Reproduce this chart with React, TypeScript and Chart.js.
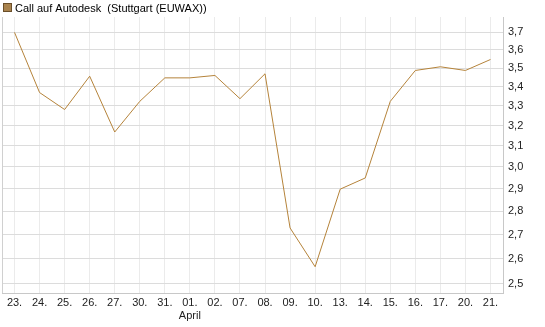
import React, { useEffect, useRef } from "react";
import { Chart, registerables } from "chart.js";

Chart.register(...registerables);

const dayLabels = ["23.", "24.", "25.", "26.", "27.", "30.", "31.", "01.", "02.", "07.", "08.", "09.", "10.", "13.", "14.", "15.", "16.", "17.", "20.", "21."];
const monthMarks: Record<string, string> = { "01.": "April" };
const prices = [3.70, 3.369, 3.281, 3.456, 3.168, 3.323, 3.447, 3.447, 3.46, 3.337, 3.469, 2.728, 2.568, 2.898, 2.949, 3.323, 3.487, 3.507, 3.487, 3.547];
const yTicks = [2.5, 2.6, 2.7, 2.8, 2.9, 3.0, 3.1, 3.2, 3.3, 3.4, 3.5, 3.6, 3.7];
const seriesName = "Call auf Autodesk  (Stuttgart (EUWAX))";
const yMin = 2.465;
const yMax = 3.79;

const LINE = "#B5833A";
const FONT = "'Liberation Sans', Arial, sans-serif";

export default function App() {
  const ref = useRef<HTMLCanvasElement | null>(null);
  useEffect(() => {
    document.body.style.margin = "0";
    const canvas = ref.current!;
    const labels = dayLabels.map((d) => (monthMarks[d] ? [d, monthMarks[d]] : d));
    const framePlugin = {
      id: "frame",
      beforeDatasetsDraw(chart: any) {
        const { ctx, chartArea } = chart;
        ctx.save();
        ctx.strokeStyle = "#d0d0d0";
        ctx.lineWidth = 1;
        ctx.beginPath();
        ctx.moveTo(chartArea.left + 0.5, chartArea.top);
        ctx.lineTo(chartArea.left + 0.5, chartArea.bottom);
        ctx.stroke();
        ctx.restore();
      },
      afterDraw(chart: any) {
        const { ctx } = chart;
        ctx.save();
        ctx.fillStyle = "#A9834E";
        ctx.strokeStyle = "#6b4f2a";
        ctx.lineWidth = 1;
        ctx.fillRect(3, 3, 9, 9);
        ctx.strokeRect(3.5, 3.5, 8, 8);
        ctx.fillStyle = "#000";
        ctx.font = `11px ${FONT}`;
        ctx.textBaseline = "alphabetic";
        ctx.textAlign = "left";
        ctx.fillText(chart.data.datasets[0].label, 15, 12);
        ctx.restore();
      },
    };
    const chart = new Chart(canvas, {
      type: "line",
      data: {
        labels,
        datasets: [
          {
            label: seriesName,
            data: prices,
            borderColor: LINE,
            backgroundColor: "#A9834E",
            borderWidth: 1,
            pointRadius: 0,
            tension: 0,
            fill: false,
          },
        ],
      },
      options: {
        responsive: false,
        animation: false,
        layout: { padding: { left: 2, top: 17, right: 0, bottom: 0 } },
        plugins: {
          tooltip: { enabled: false },
          legend: { display: false },
        },
        scales: {
          x: {
            type: "category",
            offset: true,
            grid: { offset: false, color: "#ebebeb", drawTicks: false },
            border: { color: "#c8c8c8" },
            ticks: {
              color: "#222",
              padding: 3,
              maxRotation: 0,
              autoSkip: false,
              font: { family: FONT, size: 11 },
            },
            afterFit: (s: any) => {
              s.height = 34;
            },
          },
          y: {
            type: "logarithmic",
            position: "right",
            min: yMin,
            max: yMax,
            grid: { color: "#dcdcdc", drawTicks: false },
            border: { color: "#c8c8c8" },
            afterBuildTicks: (s: any) => {
              s.ticks = yTicks.map((v) => ({ value: v }));
            },
            ticks: {
              color: "#222",
              padding: 5,
              font: { family: FONT, size: 11 },
              callback: (v: any) => Number(v).toFixed(1).replace(".", ","),
            },
            afterFit: (s: any) => {
              s.width = 42;
            },
          },
        },
      },
      plugins: [framePlugin],
    });
    return () => chart.destroy();
  }, []);
  return <canvas ref={ref} width={545} height={327} style={{ display: "block" }} />;
}
